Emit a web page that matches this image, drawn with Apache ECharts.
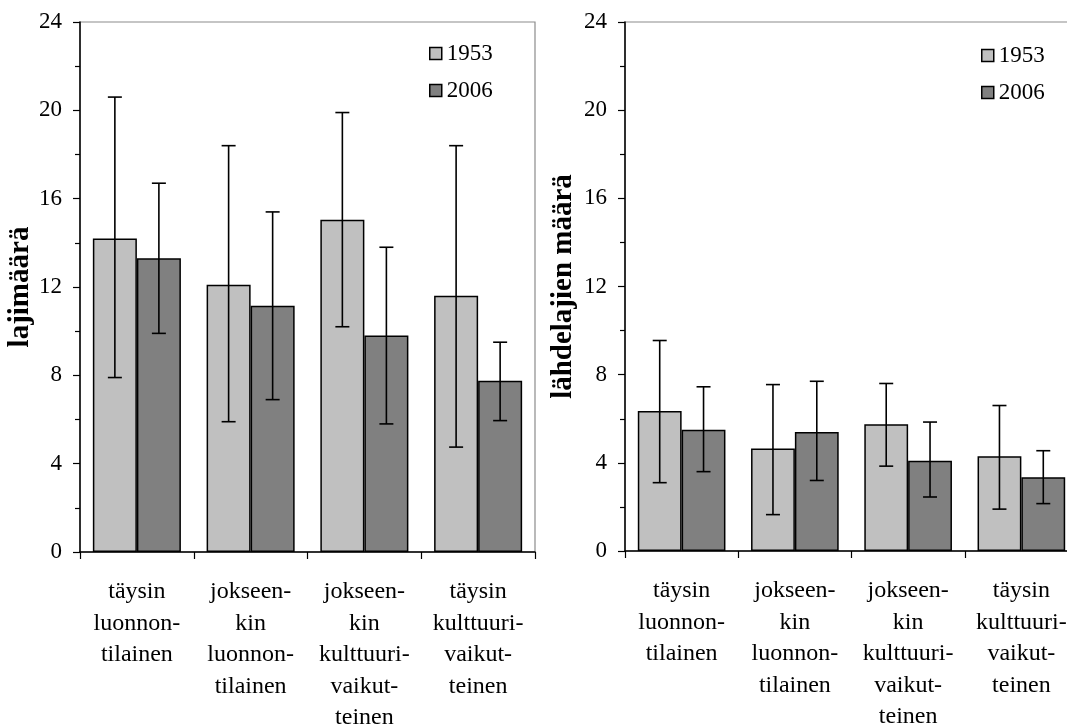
<!DOCTYPE html>
<html>
<head>
<meta charset="utf-8">
<script src="https://cdn.jsdelivr.net/npm/echarts@6/dist/echarts.min.js"></script>
<style>
  html, body { margin: 0; padding: 0; background: #ffffff; }
  #chart { width: 1067px; height: 725px; }
</style>
</head>
<body>
<div id="chart"></div>
<script>
// Habitat classes (shared by both panels)
const categories = [
  'täysin\nluonnon-\ntilainen',
  'jokseen-\nkin\nluonnon-\ntilainen',
  'jokseen-\nkin\nkulttuuri-\nvaikut-\nteinen',
  'täysin\nkulttuuri-\nvaikut-\nteinen'
];
const years = ['1953', '2006'];
const yTicks = [0, 4, 8, 12, 16, 20, 24];

// Panel 1: number of species (mean, lower and upper end of the error bar)
const species1953 = [14.2, 12.1, 15.05, 11.6];
const species1953Low = [7.9, 5.9, 10.2, 4.75];
const species1953High = [20.6, 18.4, 19.9, 18.4];
const species2006 = [13.3, 11.15, 9.8, 7.75];
const species2006Low = [9.9, 6.9, 5.8, 5.95];
const species2006High = [16.7, 15.4, 13.8, 9.5];

// Panel 2: number of spring species
const spring1953 = [6.35, 4.65, 5.75, 4.3];
const spring1953Low = [3.1, 1.65, 3.85, 1.9];
const spring1953High = [9.55, 7.55, 7.6, 6.6];
const spring2006 = [5.5, 5.4, 4.1, 3.35];
const spring2006Low = [3.6, 3.2, 2.45, 2.15];
const spring2006High = [7.45, 7.7, 5.85, 4.55];

const FONT = '"Liberation Serif", "Times New Roman", serif';
const LIGHT = '#c0c0c0';
const DARK = '#808080';
const CAT_GAP = 0.226;

function errorRenderer(side) {
  return function (params, api) {
    const xi = api.value(0);
    const lo = api.coord([xi, api.value(1)]);
    const hi = api.coord([xi, api.value(2)]);
    const band = api.size([1, 0])[0];
    const x = lo[0] + side * band * (1 - CAT_GAP) / 4;
    const cap = 7;
    const st = { stroke: '#000', lineWidth: 1.6 };
    return {
      type: 'group',
      children: [
        { type: 'line', shape: { x1: x, y1: hi[1], x2: x, y2: lo[1] }, style: st },
        { type: 'line', shape: { x1: x - cap, y1: hi[1], x2: x + cap, y2: hi[1] }, style: st },
        { type: 'line', shape: { x1: x - cap, y1: lo[1], x2: x + cap, y2: lo[1] }, style: st }
      ]
    };
  };
}

function errData(low, high) {
  return categories.map((c, i) => [i, low[i], high[i]]);
}

function xAxisFor(gridIndex) {
  return {
    type: 'category',
    gridIndex: gridIndex,
    data: categories,
    axisLine: { lineStyle: { color: '#000', width: 1.5 } },
    axisTick: { show: true, length: 7, lineStyle: { color: '#000', width: 1.2 } },
    axisLabel: {
      color: '#000', fontFamily: FONT, fontSize: 24, lineHeight: 31.5,
      margin: 24, interval: 0, align: 'center'
    }
  };
}

function yAxisFor(gridIndex, name, nameGap) {
  return {
    type: 'value',
    gridIndex: gridIndex,
    min: 0, max: 24, interval: 4,
    name: name,
    nameLocation: 'middle',
    nameRotate: 90,
    nameGap: nameGap,
    nameTextStyle: { color: '#000', fontFamily: FONT, fontSize: 29, fontWeight: 'bold' },
    axisLine: { show: true, lineStyle: { color: '#000', width: 1.5 } },
    axisTick: { show: true, length: 7, lineStyle: { color: '#000', width: 1.2 } },
    minorTick: { show: true, splitNumber: 2, length: 5, lineStyle: { color: '#000', width: 1.2 } },
    splitLine: { show: false },
    axisLabel: {
      color: '#000', fontFamily: FONT, fontSize: 23, margin: 18,
      formatter: v => (yTicks.indexOf(v) >= 0 ? String(v) : '')
    }
  };
}

function barSeries(name, values, color, gridIndex) {
  return {
    type: 'bar',
    name: name,
    xAxisIndex: gridIndex,
    yAxisIndex: gridIndex,
    data: values,
    barGap: '0%',
    barCategoryGap: (CAT_GAP * 100) + '%',
    itemStyle: { color: color, borderColor: '#000', borderWidth: 1.5 },
    z: 2
  };
}

function errSeries(low, high, side, gridIndex) {
  return {
    type: 'custom',
    xAxisIndex: gridIndex,
    yAxisIndex: gridIndex,
    renderItem: errorRenderer(side),
    encode: { x: 0, y: [1, 2] },
    data: errData(low, high),
    z: 5,
    silent: true
  };
}

function legendAt(left, top) {
  return {
    data: years,
    orient: 'vertical',
    left: left,
    top: top,
    icon: 'rect',
    itemWidth: 12,
    itemHeight: 12,
    itemGap: 14,
    textStyle: { color: '#000', fontFamily: FONT, fontSize: 23 },
    itemStyle: { borderColor: '#000', borderWidth: 1.5 }
  };
}

const chart = echarts.init(document.getElementById('chart'), null, { renderer: 'canvas' });
chart.setOption({
  backgroundColor: '#ffffff',
  animation: false,
  legend: [legendAt(424, 37), legendAt(976, 39)],
  grid: [
    { left: 80, top: 22, width: 455, height: 530, outerBoundsMode: 'none', containLabel: false,
      show: true, borderColor: '#8c8c8c', borderWidth: 1.2 },
    { left: 625, top: 22, width: 453, height: 529, outerBoundsMode: 'none', containLabel: false,
      show: true, borderColor: '#8c8c8c', borderWidth: 1.2 }
  ],
  xAxis: [xAxisFor(0), xAxisFor(1)],
  yAxis: [yAxisFor(0, 'lajimäärä', 40), yAxisFor(1, 'lähdelajien määrä', 47)],
  series: [
    barSeries(years[0], species1953, LIGHT, 0),
    barSeries(years[1], species2006, DARK, 0),
    errSeries(species1953Low, species1953High, -1, 0),
    errSeries(species2006Low, species2006High, 1, 0),
    barSeries(years[0], spring1953, LIGHT, 1),
    barSeries(years[1], spring2006, DARK, 1),
    errSeries(spring1953Low, spring1953High, -1, 1),
    errSeries(spring2006Low, spring2006High, 1, 1)
  ]
});
</script>
</body>
</html>
